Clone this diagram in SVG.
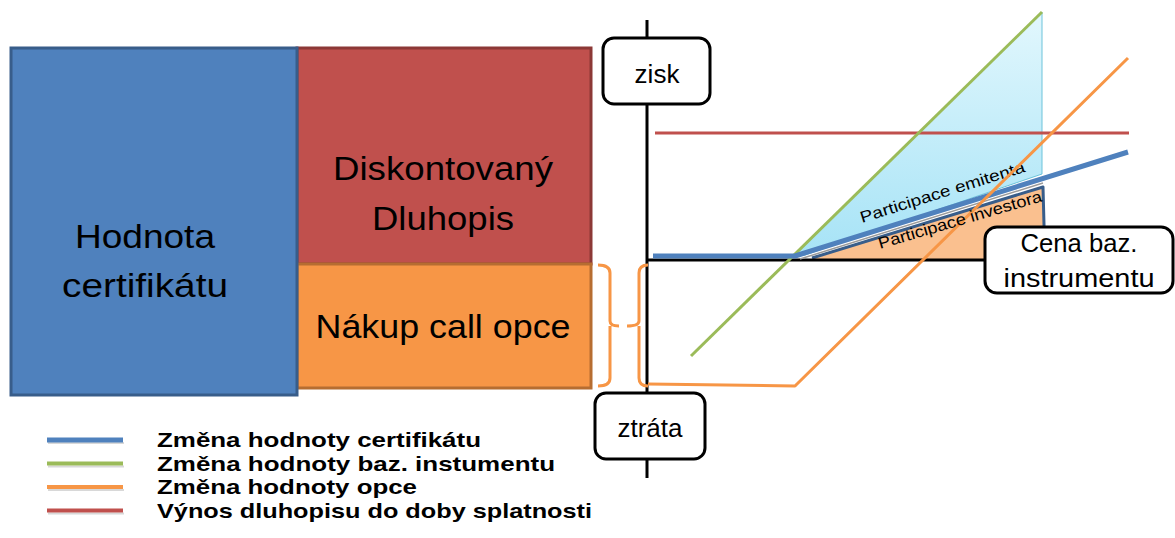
<svg xmlns="http://www.w3.org/2000/svg" width="1175" height="538" viewBox="0 0 1175 538">
  <defs>
    <linearGradient id="issuerFill" gradientUnits="userSpaceOnUse" x1="0" y1="12" x2="0" y2="258">
      <stop offset="0" stop-color="#E2F7FD"/>
      <stop offset="1" stop-color="#A6E3F6"/>
    </linearGradient>
    <style>
      text { font-family: "Liberation Sans", Arial, sans-serif; fill: #000; }
      .big { font-size: 34px; text-anchor: middle; }
      .lbl { font-size: 26px; text-anchor: middle; }
      .leg { font-size: 21px; font-weight: bold; }
      .part { font-size: 16px; }
      .tag { fill: #fff; stroke: #000; stroke-width: 3; }
      .ln { fill: none; stroke-linejoin: round; }
      .blue { stroke: #4F81BD; }
      .green { stroke: #9BBB59; }
      .orange { stroke: #F79646; }
      .red { stroke: #C0504D; }
    </style>
  </defs>

  <!-- value decomposition blocks -->
  <g id="bond">
    <rect x="297" y="48" width="294" height="216" fill="#C0504D" stroke="#8C3836" stroke-width="3"/>
    <text class="big" x="443" y="180" textLength="220" lengthAdjust="spacingAndGlyphs">Diskontovaný</text>
    <text class="big" x="443" y="230" textLength="142" lengthAdjust="spacingAndGlyphs">Dluhopis</text>
  </g>
  <g id="call-option">
    <rect x="297" y="264" width="294" height="124" fill="#F79646" stroke="#B66D31" stroke-width="3"/>
    <text class="big" x="443" y="338" textLength="255" lengthAdjust="spacingAndGlyphs">Nákup call opce</text>
  </g>
  <g id="certificate">
    <rect x="11" y="48" width="286" height="347" fill="#4F81BD" stroke="#385D8A" stroke-width="3"/>
    <text class="big" x="145" y="248" textLength="140" lengthAdjust="spacingAndGlyphs">Hodnota</text>
    <text class="big" x="145" y="297" textLength="166" lengthAdjust="spacingAndGlyphs">certifikátu</text>
  </g>

  <!-- participation areas -->
  <g id="issuer-participation">
    <polygon points="793,257 1042,12 1042,174 805,255" fill="url(#issuerFill)" stroke="#6CC3DA" stroke-width="1"/>
    <text class="part" transform="translate(862,223) rotate(-17.4)" textLength="172" lengthAdjust="spacingAndGlyphs">Participace emitenta</text>
  </g>
  <g id="investor-participation">
    <polygon points="812,259 1043,187 1045,260" fill="#FAC08F"/>
    <polyline class="ln" points="812,258 1043,187 1045,262" stroke="#385D8A" stroke-width="3"/>
  </g>

  <!-- chart lines and brackets -->
  <g id="connectors">
    <line x1="647" y1="20" x2="647" y2="478" stroke="#000" stroke-width="3"/>
    <line x1="647" y1="260" x2="990" y2="260" stroke="#000" stroke-width="3"/>
    <line class="ln red" x1="655" y1="133" x2="1129" y2="133" stroke-width="3"/>
    <line class="ln green" x1="691" y1="356" x2="1042" y2="12" stroke-width="3"/>
    <line x1="800" y1="259" x2="1043" y2="183" stroke="#9A9A9A" stroke-width="1.5"/>
    <polyline class="ln blue" points="653,256 795,256 1128,152" stroke-width="5"/>
    <polyline class="ln orange" points="648,384 795,386 1128,58" stroke-width="3"/>
    <path class="ln orange" stroke-width="3" d="M598,265 Q610,265 610,273 V321 Q610,326 619,326 M610,326 V378 Q610,386 598,386"/>
    <path class="ln orange" stroke-width="3" d="M648,265 Q639,265 639,273 V321 Q639,326 627,326 M639,326 V378 Q639,386 648,386"/>
  </g>

  <text class="part" transform="translate(880,249) rotate(-16.4)" textLength="170" lengthAdjust="spacingAndGlyphs">Participace investora</text>

  <!-- axis labels -->
  <g id="gain">
    <rect class="tag" x="603" y="38" width="107" height="66" rx="11"/>
    <text class="lbl" x="657" y="83">zisk</text>
  </g>
  <g id="loss">
    <rect class="tag" x="595" y="393" width="110" height="66" rx="11"/>
    <text class="lbl" x="650" y="437">ztráta</text>
  </g>
  <g id="underlying-price">
    <rect class="tag" x="985" y="227" width="188" height="66" rx="12"/>
    <text class="lbl" x="1079" y="252" font-size="27" textLength="117" lengthAdjust="spacingAndGlyphs">Cena baz.</text>
    <text class="lbl" x="1079" y="287" font-size="27" textLength="151" lengthAdjust="spacingAndGlyphs">instrumentu</text>
  </g>

  <!-- legend -->
  <g id="legend">
    <g stroke="#BFBFBF" stroke-width="2" opacity="0.6">
      <line x1="48" y1="443" x2="124" y2="443"/>
      <line x1="48" y1="466.5" x2="124" y2="466.5"/>
      <line x1="48" y1="490" x2="124" y2="490"/>
      <line x1="48" y1="513.5" x2="124" y2="513.5"/>
    </g>
    <line class="blue" x1="47" y1="440" x2="123" y2="440" stroke-width="5"/>
    <line class="green" x1="47" y1="463.5" x2="123" y2="463.5" stroke-width="4"/>
    <line class="orange" x1="47" y1="487" x2="123" y2="487" stroke-width="4"/>
    <line class="red" x1="47" y1="510.5" x2="123" y2="510.5" stroke-width="4"/>
    <text class="leg" x="157" y="447" textLength="324" lengthAdjust="spacingAndGlyphs">Změna hodnoty certifikátu</text>
    <text class="leg" x="157" y="470.5" textLength="398" lengthAdjust="spacingAndGlyphs">Změna hodnoty baz. instumentu</text>
    <text class="leg" x="157" y="494" textLength="260" lengthAdjust="spacingAndGlyphs">Změna hodnoty opce</text>
    <text class="leg" x="157" y="517.5" textLength="435" lengthAdjust="spacingAndGlyphs">Výnos dluhopisu do doby splatnosti</text>
  </g>
</svg>
